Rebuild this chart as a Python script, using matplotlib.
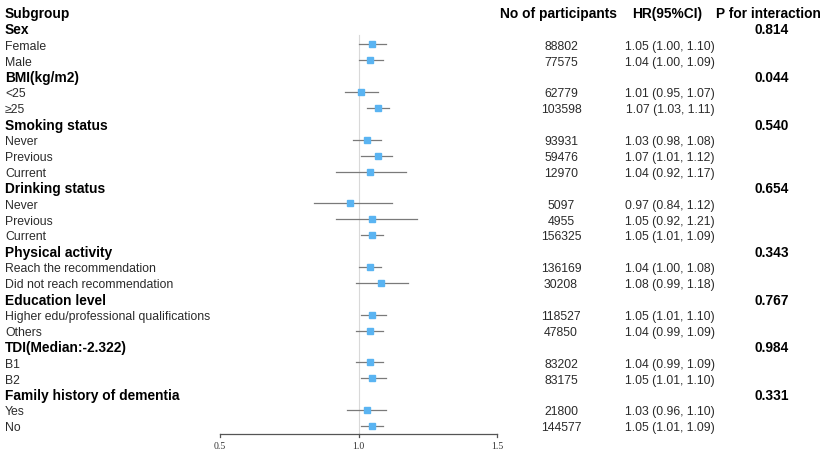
import numpy as np
import matplotlib.pyplot as plt
from matplotlib.transforms import blended_transform_factory

plt.rcParams['font.family'] = ['Liberation Sans', 'DejaVu Sans']

# rows (None in data lists = heading row)
labels = ["Sex", "Female", "Male",
          "BMI(kg/m2)", "<25", "≥25",
          "Smoking status", "Never", "Previous", "Current",
          "Drinking status", "Never", "Previous", "Current",
          "Physical activity", "Reach the recommendation", "Did not reach recommendation",
          "Education level", "Higher edu/professional qualifications", "Others",
          "TDI(Median:-2.322)", "B1", "B2",
          "Family history of dementia", "Yes", "No"]
is_head = [True, False, False,
           True, False, False,
           True, False, False, False,
           True, False, False, False,
           True, False, False,
           True, False, False,
           True, False, False,
           True, False, False]
n_part = [None, 88802, 77575,
          None, 62779, 103598,
          None, 93931, 59476, 12970,
          None, 5097, 4955, 156325,
          None, 136169, 30208,
          None, 118527, 47850,
          None, 83202, 83175,
          None, 21800, 144577]
hr = [None, 1.05, 1.04,
      None, 1.01, 1.07,
      None, 1.03, 1.07, 1.04,
      None, 0.97, 1.05, 1.05,
      None, 1.04, 1.08,
      None, 1.05, 1.04,
      None, 1.04, 1.05,
      None, 1.03, 1.05]
lo = [None, 1.00, 1.00,
      None, 0.95, 1.03,
      None, 0.98, 1.01, 0.92,
      None, 0.84, 0.92, 1.01,
      None, 1.00, 0.99,
      None, 1.01, 0.99,
      None, 0.99, 1.01,
      None, 0.96, 1.01]
hi = [None, 1.10, 1.09,
      None, 1.07, 1.11,
      None, 1.08, 1.12, 1.17,
      None, 1.12, 1.21, 1.09,
      None, 1.08, 1.18,
      None, 1.10, 1.09,
      None, 1.09, 1.10,
      None, 1.10, 1.09]
p_int = ["0.814", None, None,
         "0.044", None, None,
         "0.540", None, None, None,
         "0.654", None, None, None,
         "0.343", None, None,
         "0.767", None, None,
         "0.984", None, None,
         "0.331", None, None]
x_ticks = [0.5, 1.0, 1.5]

W, H = 831, 456
fig = plt.figure(figsize=(W / 100, H / 100), dpi=100)
ax = fig.add_axes([0, 0, 1, 1])

# pixel mapping: 0.5 -> 220px, 1.5 -> 497px ; row 0 -> y0 px, step 15.9px
px_per = (497 - 220) / 1.0
ax.set_xlim(0.5 - 220 / px_per, 1.5 + (W - 497) / px_per)
step = 15.9
y0 = 29.4
ax.set_ylim((H - y0) / step, -y0 / step)
ax.axis("off")

tr = blended_transform_factory(fig.transFigure, ax.transData)
fs = 8.8
fsb = 9.9
txt = "#2a2a2a"
# baseline offsets (half cap height, in row units) so text sits centred on the row
off_n = 0.716 * fs * 100 / 72 / 2 / step
off_b = 0.716 * fsb * 100 / 72 / 2 / step

yh = -1 + off_b
ax.text(5 / W, yh, "Subgroup", transform=tr, fontsize=fsb, fontweight="bold", va="baseline", ha="left")
ax.text(559 / W, yh, "No of participants", transform=tr, fontsize=fsb, fontweight="bold", va="baseline", ha="center")
ax.text(667 / W, yh, "HR(95%CI)", transform=tr, fontsize=fsb, fontweight="bold", va="baseline", ha="center")
ax.text(768 / W, yh, "P for interaction", transform=tr, fontsize=fsb, fontweight="bold", va="baseline", ha="center")

rows = np.arange(len(labels))
for i in rows:
    if is_head[i]:
        ax.text(5 / W, i + off_b, labels[i], transform=tr, fontsize=fsb, fontweight="bold",
                va="baseline", ha="left")
    else:
        ax.text(5 / W, i + off_n, labels[i], transform=tr, fontsize=fs, color=txt, va="baseline", ha="left")
        ax.text(561 / W, i + off_n, str(n_part[i]), transform=tr, fontsize=fs, color=txt,
                va="baseline", ha="center")
        ax.text(670 / W, i + off_n, f"{hr[i]:.2f} ({lo[i]:.2f}, {hi[i]:.2f})", transform=tr,
                fontsize=fs, color=txt, va="baseline", ha="center")
        ax.plot([lo[i], hi[i]], [i, i], color="#7a7a7a", lw=0.9, zorder=2)
        ax.plot(hr[i], i, marker="s", ms=5, color="#5ab4f2", mec="#5ab4f2", zorder=3)
    if p_int[i] is not None:
        ax.text(772 / W, i + off_b, p_int[i], transform=tr, fontsize=fsb, fontweight="bold",
                va="baseline", ha="center")

# reference line at HR = 1
axis_y = (435 - y0) / step
ax.plot([1.0, 1.0], [(36 - y0) / step, axis_y], color="#d9d9d9", lw=0.8, zorder=1)

# x axis drawn by hand
ax.plot([x_ticks[0], x_ticks[-1]], [axis_y, axis_y], color="#555555", lw=0.9)
for t in x_ticks:
    ax.plot([t, t], [axis_y, axis_y + 0.22], color="#555555", lw=0.9)
    ax.text(t, axis_y + 0.75, f"{t:.1f}", fontsize=7, family="Liberation Serif",
            va="center", ha="center", color="#333333")

fig.savefig("out.png", dpi=100)
